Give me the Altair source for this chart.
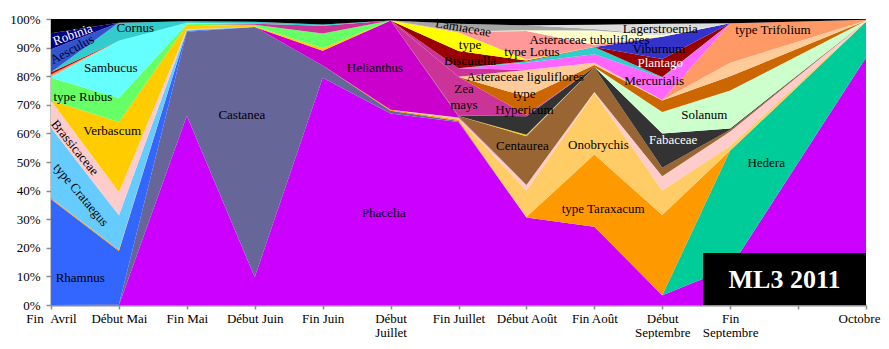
import json
import altair as alt
import pandas as pd

# ---------------- periods (x axis) ----------------
periods = ["Fin\u00a0\u00a0Avril", "Début Mai", "Fin Mai", "Début Juin", "Fin Juin",
           ["Début", "Juillet"], "Fin Juillet", "Début Août", "Fin Août",
           ["Début", "Septembre"], ["Fin", "Septembre"], "", "Octobre"]
x_pos = [0, 1, 2, 3, 4, 5, 6, 7, 8, 9, 10, 12]   # sampled periods

# ---------------- pollen shares (%) per taxon, bottom -> top ----------------
phacelia      = [0, 0, 66.2, 9.7, 79.5, 66.8, 64.0, 30.6, 27.4, 3.4, 13.0, 86.5]
castanea      = [0, 0.2, 29.3, 87.5, 4.2, 1.0, 0.3, 0, 0, 0, 0, 0]
hedera        = [0, 0, 0, 0, 0, 0, 0, 0, 0, 0, 41.0, 12.5]
rhamnus       = [37.0, 18.7, 0.4, 0, 0, 0, 0, 0, 0, 0, 0, 0]
taraxacum     = [0.4, 0.4, 0, 0, 0, 0.3, 0.5, 0.2, 25.2, 28.1, 0, 0]
crataegus     = [24.6, 12.1, 0.3, 0, 0, 0, 0, 0, 0, 0, 0, 0]
onobrychis    = [0, 0, 0, 0, 0, 0, 0.5, 9.2, 21.4, 8.5, 1.7, 0.1]
brassicaceae  = [9.5, 8.1, 0.2, 0, 0, 0, 0.3, 2.0, 0.5, 5.0, 5.0, 0.1]
helianthus    = [0, 0, 0, 0, 5.2, 31.2, 0.3, 0, 0, 0, 0, 0]
centaurea     = [0, 0, 0, 0, 0, 0, 0.2, 17.0, 8.5, 3.0, 0.6, 0.05]
verbascum     = [0, 24.5, 1.6, 0.3, 0.9, 0, 0, 0.5, 0, 0, 0, 0]
fabaceae      = [0, 0, 0, 0, 0, 0, 0.2, 6.5, 0.2, 12.0, 0.4, 0]
rubus         = [8.0, 8.4, 0.3, 0.5, 5.1, 0, 0, 0, 0, 0, 0, 0]
solanum       = [0, 0, 0, 0, 0, 0, 0, 0, 0, 7.5, 13.3, 0.1]
zea_mays      = [0, 0, 0, 0.3, 2.7, 0, 13.5, 0.5, 0, 0, 0, 0]
hypericum     = [0, 0, 0, 0, 0, 0, 0, 6.3, 0.7, 4.0, 5.0, 0.05]
ast_ligul     = [0, 0, 0, 0, 0, 0, 0, 9.4, 0.8, 0.2, 4.7, 0.05]
autre_magenta = [0, 0, 0, 0, 0, 0, 3.0, 0, 0, 0, 0, 0]
trifolium     = [0, 0, 0, 0, 0, 0, 0, 0, 0, 0, 13.8, 0.25]
sambucus      = [0.3, 20.0, 0.4, 0, 0, 0, 0, 0, 0, 0, 0, 0]
autre_saumon  = [0.8, 0, 0, 0, 0, 0, 0, 0, 0, 0, 0, 0]
autre_rouge   = [0.8, 0, 0, 0, 0, 0, 0, 0, 0, 0, 0, 0]
mercurialis   = [0, 0, 0, 0, 0, 0, 0, 2.5, 3.0, 7.8, 0, 0]
cornus        = [0, 6.3, 0.5, 0.7, 0.5, 0, 0, 0.5, 2.5, 0.2, 0, 0]
plantago      = [0, 0, 0, 0, 0, 0, 6.0, 0.3, 0, 6.3, 0, 0]
biscutella    = [0, 0, 0, 0, 0, 0, 6.5, 0.3, 0, 0, 0, 0]
viburnum      = [0, 0, 0, 0, 0, 0, 0, 0, 0, 7.8, 0, 0]
lotus         = [0, 0, 0, 0, 0, 0, 0.3, 10.0, 0.8, 0, 0, 0]
ast_tubul     = [0, 0, 0, 0, 0, 0, 0, 0.3, 5.0, 0.5, 0, 0]
lamiaceae     = [0, 0, 0, 0, 0, 0, 2.7, 1.7, 0.5, 0, 0, 0]
lagerstroemia = [0, 0, 0, 0, 0, 0, 0, 0, 1.5, 4.0, 0, 0]
aesculus      = [8.0, 0, 0, 0, 0, 0, 0, 0, 0, 0, 0, 0]
robinia       = [5.6, 0, 0, 0, 0, 0, 0, 0, 0, 0, 0, 0]
autres        = [5.0, 1.3, 0.8, 1.0, 1.9, 0.5, 1.7, 2.2, 2.0, 1.7, 1.5, 0.3]

series = [
    ("Phacelia", phacelia, "#CC00FF"),
    ("Castanea", castanea, "#666699"),
    ("Hedera", hedera, "#00CC99"),
    ("Rhamnus", rhamnus, "#3366FF"),
    ("type Taraxacum", taraxacum, "#FF9900"),
    ("type Crataegus", crataegus, "#66CCFF"),
    ("Onobrychis", onobrychis, "#FFCC66"),
    ("Brassicaceae", brassicaceae, "#FFCCCC"),
    ("Helianthus", helianthus, "#CC00CC"),
    ("Centaurea", centaurea, "#996633"),
    ("Verbascum", verbascum, "#FFCC00"),
    ("Fabaceae", fabaceae, "#333333"),
    ("type Rubus", rubus, "#66FF66"),
    ("Solanum", solanum, "#CCFFCC"),
    ("Zea mays", zea_mays, "#CC3399"),
    ("type Hypericum", hypericum, "#CC6600"),
    ("Asteraceae liguliflores", ast_ligul, "#FFCC99"),
    ("autre (magenta)", autre_magenta, "#CC3399"),
    ("type Trifolium", trifolium, "#FF9966"),
    ("Sambucus", sambucus, "#66FFFF"),
    ("autre (saumon)", autre_saumon, "#FF9966"),
    ("autre (rouge)", autre_rouge, "#CC0000"),
    ("Mercurialis", mercurialis, "#FF66FF"),
    ("Cornus", cornus, "#33CCCC"),
    ("Plantago", plantago, "#990000"),
    ("type Biscutella", biscutella, "#FFFF00"),
    ("Viburnum", viburnum, "#3333CC"),
    ("type Lotus", lotus, "#FF9999"),
    ("Asteraceae tubuliflores", ast_tubul, "#FFFFCC"),
    ("Lamiaceae", lamiaceae, "#A6A6A6"),
    ("Lagerstroemia", lagerstroemia, "#DDDDDD"),
    ("Aesculus", aesculus, "#3355CC"),
    ("Robinia", robinia, "#000080"),
    ("autres", autres, "#000000"),
]

# ---------------- in-chart labels (x = period index, y = %) ----------------
lab_text = ["Robinia", "Aesculus", "Cornus", "Sambucus", "type Rubus", "Verbascum",
            "Brassicaceae", "type Crataegus", "Rhamnus", "Castanea", "Phacelia",
            "Helianthus", "Lamiaceae", "type\nBiscutella", "type Lotus",
            "Asteraceae tubuliflores", "Lagerstroemia", "Viburnum", "Plantago",
            "Mercurialis", "type Trifolium", "Asteraceae liguliflores",
            "type\nHypericum", "Zea\nmays", "Centaurea", "Onobrychis", "Fabaceae",
            "Solanum", "type Taraxacum", "Hedera"]
lab_x = [0.32, 0.31, 1.24, 0.88, 0.47, 0.90, 0.35, 0.44, 0.43, 2.81, 4.90,
         4.77, 6.07, 6.17, 7.08, 7.93, 8.97, 8.95, 8.97, 8.88, 10.63, 6.98,
         6.97, 6.08, 6.94, 8.06, 9.16, 9.62, 8.13, 10.53]
lab_y = [94.5, 89.3, 96.9, 82.8, 72.9, 60.8, 55.0, 38.5, 9.6, 66.3, 32.3,
         82.8, 96.9, 90.9, 88.3, 92.6, 96.4, 89.6, 84.5, 78.4, 96.2, 79.7,
         73.8, 75.5, 55.7, 56.0, 57.7, 66.3, 33.7, 49.5]
lab_angle = [340, 332, 0, 0, 0, 0, 51, 50, 0, 0, 0,
             0, 10, 0, 0, 0, 0, 0, 0, 0, 0, 0,
             0, 0, 0, 0, 0, 0, 0, 0]
lab_color = ["#FFFFFF", "#000033", "#000000", "#000000", "#000000", "#000000",
             "#000000", "#000000", "#000000", "#000000", "#000000",
             "#000000", "#000000", "#000000", "#000000", "#000000", "#000000",
             "#000000", "#FFFFFF", "#000000", "#000000", "#000000",
             "#000000", "#000000", "#000000", "#000000", "#FFFFFF",
             "#000000", "#000000", "#000000"]

# title box "ML3 2011" (data coordinates)
box_text = "ML3 2011"
box_x = [9.6, 12.0]
box_y = [0.0, 18.2]
box_text_pos = [10.8, 8.9]

# ---------------- build tables ----------------
rows = []
for rank, (name, vals, _c) in enumerate(series):
    for xi, v in zip(x_pos, vals):
        rows.append({"taxon": name, "periode": xi, "pct": v, "rang": rank})
df = pd.DataFrame(rows)
names = [s[0] for s in series]
colors = [s[2] for s in series]

labels_df = pd.DataFrame({"t": lab_text, "periode": lab_x, "yp": lab_y,
                          "ang": lab_angle, "col": lab_color})
box_df = pd.DataFrame({"periode": [box_x[0]], "x2": [box_x[1]],
                       "pct": [box_y[0] / 100], "y2": [box_y[1] / 100],
                       "t": [box_text]})
box_lab_df = pd.DataFrame({"periode": [box_text_pos[0]],
                           "pct": [box_text_pos[1] / 100], "t": [box_text]})

FONT = "Liberation Serif"
AX = "#8C8C8C"
label_expr = json.dumps(periods, ensure_ascii=False) + "[datum.value]"

x_scale = alt.Scale(domain=[0, 12], nice=False, zero=False)
y_scale = alt.Scale(domain=[0, 1], nice=False)
x_axis = alt.Axis(values=list(range(13)), labelExpr=label_expr, title="",
                  grid=False, labelAngle=0, labelFont=FONT, labelFontSize=13,
                  labelColor="#000000", labelLineHeight=14, labelPadding=3,
                  labelOffset={"condition": {"test": "datum.value == 12", "value": -7},
                               "value": 0},
                  domainColor=AX, domainWidth=2, tickColor=AX, tickWidth=1.5,
                  tickSize=4, labelOverlap=False, labelFlush=False)
y_axis = alt.Axis(values=[i / 10 for i in range(11)], format=".0%", title="",
                  grid=False, labelFont=FONT, labelFontSize=13,
                  labelColor="#000000", labelPadding=6,
                  domainColor=AX, domainWidth=2, tickColor=AX, tickWidth=1.5,
                  tickSize=5)

X = alt.X("periode:Q", scale=x_scale, axis=x_axis)
Y = alt.Y("pct:Q", scale=y_scale, axis=y_axis)

areas = alt.Chart(df).mark_area(interpolate="linear").encode(
    x=X,
    y=alt.Y("pct:Q", stack="normalize", scale=y_scale, axis=y_axis),
    color=alt.Color("taxon:N", scale=alt.Scale(domain=names, range=colors), legend=None),
    order=alt.Order("rang:Q", sort="ascending"),
)

labels = alt.Chart(labels_df).transform_calculate(pct="datum.yp / 100").mark_text(
    font=FONT, fontSize=13, lineBreak="\n", lineHeight=16,
    align="center", baseline="middle"
).encode(
    x=X, y=Y,
    text="t:N",
    angle=alt.Angle("ang:Q", scale=None),
    color=alt.Color("col:N", scale=None),
)

box = alt.Chart(box_df).mark_rect(color="#000000").encode(
    x=X, x2="x2:Q", y=Y, y2="y2:Q",
)
box_label = alt.Chart(box_lab_df).mark_text(
    font=FONT, fontSize=26, fontWeight="bold", color="#FFFFFF",
    align="center", baseline="middle"
).encode(x=X, y=Y, text="t:N")

chart = alt.layer(areas, labels, box, box_label).properties(
    width=815, height=286,
    autosize=alt.AutoSizeParams(type="none"),
    padding={"left": 43, "top": 11, "right": 15, "bottom": 34},
    background="#FFFFFF",
).configure_view(stroke=None)

chart.save("out.html", embed_options={"renderer": "svg", "actions": False})
